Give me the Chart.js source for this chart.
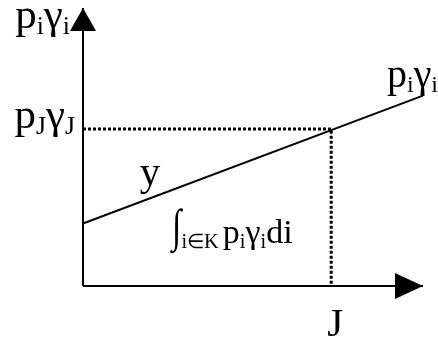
<!DOCTYPE html>
<html>
<head>
<meta charset="utf-8">
<script src="https://cdn.jsdelivr.net/npm/chart.js@4.4.0/dist/chart.umd.min.js"></script>
<style>
  html, body { margin: 0; padding: 0; background: #fff; }
  #wrap { width: 438px; height: 338px; }
</style>
</head>
<body>
<div id="wrap"><canvas id="chart" width="438" height="338"></canvas></div>
<script>
// values (arbitrary units, axes run 0..10)
const lineX = [0, 10];
const lineY = [2.25, 6.85];
const axisMax = 10;
const jValue = 7.3;     // J on the horizontal axis
const pjValue = 5.65;   // pJ*gammaJ on the vertical axis

const SERIF = "'Liberation Serif', 'Times New Roman', serif";

// draws text with subscripts, parts = [[text, isSub, stretch], ...]
function drawRich(ctx, parts, x, y, size, align) {
  const subSize = size * 0.6;
  let total = 0;
  const widths = parts.map(([t, sub]) => {
    ctx.font = (sub ? subSize : size) + 'px ' + SERIF;
    const w = ctx.measureText(t).width;
    total += w;
    return w;
  });
  let cx = x;
  if (align === 'right') cx = x - total;
  if (align === 'center') cx = x - total / 2;
  ctx.textBaseline = 'alphabetic';
  ctx.textAlign = 'left';
  parts.forEach(([t, sub, stretch], i) => {
    ctx.font = (sub ? subSize : size) + 'px ' + SERIF;
    const ty = sub ? y + size * 0.14 : y;
    if (stretch) {
      // tall integral sign, stretched upward from its foot
      const foot = size * 0.2;
      ctx.save();
      ctx.translate(cx, ty + foot);
      ctx.scale(1, stretch);
      ctx.fillText(t, 0, -foot);
      ctx.restore();
    } else {
      ctx.fillText(t, cx, ty);
    }
    cx += widths[i];
  });
}

const annotations = {
  id: 'annotations',
  afterDatasetsDraw(chart) {
    const { ctx, scales: { x, y } } = chart;
    const x0 = x.getPixelForValue(0);
    const y0 = y.getPixelForValue(0);
    const xEnd = x.getPixelForValue(axisMax);
    const yEnd = y.getPixelForValue(axisMax);
    ctx.save();
    ctx.fillStyle = '#000';

    // arrow heads
    ctx.beginPath();
    ctx.moveTo(x0, yEnd);
    ctx.lineTo(x0 - 13, yEnd + 23);
    ctx.lineTo(x0 + 13, yEnd + 23);
    ctx.closePath();
    ctx.fill();
    ctx.beginPath();
    ctx.moveTo(xEnd, y0);
    ctx.lineTo(xEnd - 28, y0 - 13);
    ctx.lineTo(xEnd - 28, y0 + 13);
    ctx.closePath();
    ctx.fill();

    // labels
    drawRich(ctx, [['p', 0], ['i', 1], ['γ', 0], ['i', 1]], x0 - 13, yEnd + 20, 43, 'right');
    drawRich(ctx, [['p', 0], ['J', 1], ['γ', 0], ['J', 1]], x0 - 8, y.getPixelForValue(pjValue) - 1, 43, 'right');
    drawRich(ctx, [['p', 0], ['i', 1], ['γ', 0], ['i', 1]], x.getPixelForValue(lineX[1]) - 36, y.getPixelForValue(lineY[1]) - 9, 40, 'left');
    drawRich(ctx, [['y', 0]], x.getPixelForValue(1.67), y.getPixelForValue(3.62), 41, 'left');
    drawRich(ctx, [['∫', 0, 1.35], ['i∈K\u2009', 1], ['p', 0], ['i', 1], ['γ', 0], ['i', 1], ['di', 0]],
      x.getPixelForValue(2.62), y.getPixelForValue(1.55), 34, 'left');
    drawRich(ctx, [['J', 0]], x.getPixelForValue(jValue) + 4, y0 + 50, 41, 'center');
    ctx.restore();
  }
};

new Chart(document.getElementById('chart'), {
  type: 'line',
  data: {
    datasets: [
      {
        label: 'x axis',
        data: [{ x: 0, y: 0 }, { x: axisMax, y: 0 }],
        borderColor: '#000',
        borderWidth: 2,
      },
      {
        label: 'y axis',
        data: [{ x: 0, y: 0 }, { x: 0, y: axisMax }],
        borderColor: '#000',
        borderWidth: 2,
      },
      {
        label: 'pJ gammaJ',
        data: [{ x: 0, y: pjValue }, { x: jValue, y: pjValue }, { x: jValue, y: 0 }],
        borderColor: '#000',
        borderWidth: 3,
        borderDash: [3, 2],
      },
      {
        label: 'pi gammai',
        data: lineX.map((v, i) => ({ x: v, y: lineY[i] })),
        borderColor: '#000',
        borderWidth: 2,
      },
    ],
  },
  options: {
    responsive: false,
    animation: false,
    clip: false,
    layout: { padding: { left: 83, right: 15, top: 8, bottom: 52 } },
    elements: { point: { radius: 0 }, line: { tension: 0 } },
    scales: {
      x: { type: 'linear', min: 0, max: axisMax, display: false },
      y: { type: 'linear', min: 0, max: axisMax, display: false },
    },
    plugins: { legend: { display: false }, tooltip: { enabled: false } },
  },
  plugins: [annotations],
});
</script>
</body>
</html>
